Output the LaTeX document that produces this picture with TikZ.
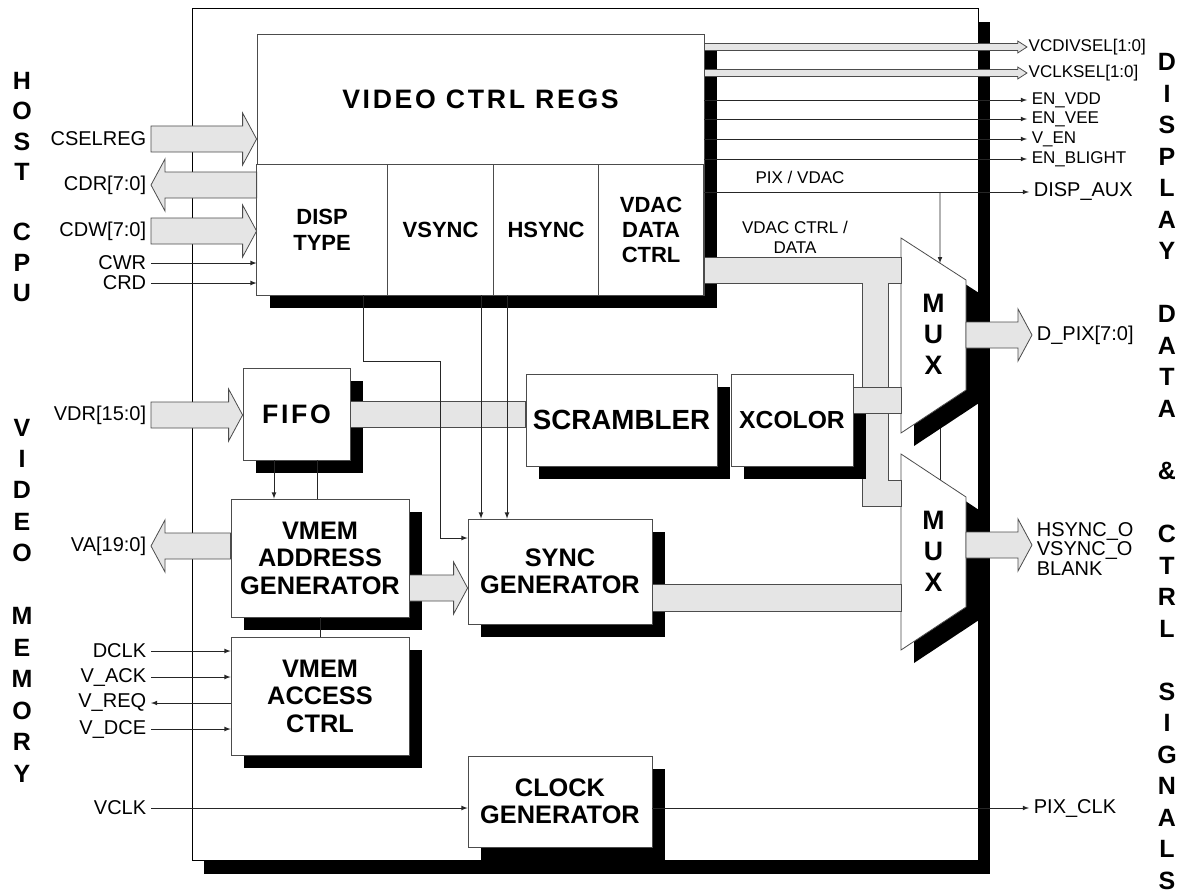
\documentclass[tikz,border=0pt]{standalone}
\usepackage{fontspec}
\setmainfont{Liberation Sans}
\newfontfamily\spacedfont[LetterSpace=10]{Liberation Sans}
\usetikzlibrary{positioning,shadows,calc,backgrounds}
\definecolor{busgray}{RGB}{229,229,229}

% wide bus: start, tip, half body, half head, head length
\newcommand\busshape[5]{%
  \draw[bus] let \p1=(#1), \p2=(#2), \p3=($(#2)!#5!(#1)$) in
    (\x1,\y2+#3) -- (\x3,\y2+#3) -- (\x3,\y2+#4) -- (\x2,\y2)
    -- (\x3,\y2-#4) -- (\x3,\y2-#3) -- (\x1,\y2-#3) -- cycle;}
\newcommand\fatbus[2]{\busshape{#1}{#2}{9.75pt}{19.5pt}{10.5pt}}
\newcommand\thinbus[2]{\busshape{#1}{#2}{2.6pt}{4.5pt}{7pt}}

\begin{document}
\begin{tikzpicture}[x=.75pt,y=-.75pt,line width=.6pt,>=latex,
font=\fontsize{15}{18}\selectfont,
blk/.style={draw=black!70,fill=white,align=center,inner sep=0pt,
  font=\bfseries\fontsize{19}{20.6}\selectfont,
  drop shadow={shadow xshift=9.75pt,shadow yshift=-9.75pt,opacity=1,fill=black}},
sz/.style 2 args={minimum width=#1*0.75pt,minimum height=#2*0.75pt},
cell/.style={draw=black!70,fill=white,align=center,inner sep=0pt,outer sep=0pt,
  minimum height=131*0.75pt,font=\bfseries\fontsize{16.5}{19}\selectfont},
mux/.style={draw=black!70,fill=white,
  drop shadow={shadow xshift=9.75pt,shadow yshift=-9.75pt,opacity=1,fill=black}},
muxlbl/.style={align=center,inner sep=0pt,font=\bfseries\fontsize{20}{23.3}\selectfont},
sig/.style={draw=black!85},
bus/.style={draw=black!70,fill=busgray},
lbl/.style={font=\fontsize{15}{18}\selectfont},
slbl/.style={font=\fontsize{12.75}{15}\selectfont},
side/.style={align=center,inner sep=0pt,font=\bfseries\fontsize{18.75}{23.6}\selectfont}]
\useasboundingbox (0,0) rectangle (1186,892);

% chip frame
\begin{scope}[on background layer]
\node[draw=black,fill=white,sz={786}{852},
  drop shadow={shadow xshift=9pt,shadow yshift=-10.5pt,opacity=1,fill=black}] (chip) at (585,434) {};
\end{scope}

% register file
\node[blk,sz={447}{261}] (regs) at (480.5,164.5) {};
\node[font=\spacedfont\bfseries\fontsize{20}{22}\selectfont] (title) at (480.5,99) {VIDEO CTRL REGS};
\node[cell,minimum width=131*0.75pt,anchor=south west] (dtype) at (regs.south west) {DISP\\TYPE};
\node[cell,minimum width=106*0.75pt,right=0pt of dtype] (vsync) {VSYNC};
\node[cell,minimum width=105*0.75pt,right=0pt of vsync] (hsync) {HSYNC};
\node[cell,minimum width=105*0.75pt,right=0pt of hsync] (vdac) {VDAC\\DATA\\CTRL};

% multiplexers
\draw[mux] (901,238) coordinate (m1a) -- (966,280) coordinate (m1b) -- (966,390) -- (901,433) -- cycle;
\node[muxlbl] (mux1) at (933.5,334) {M\\U\\X};
\draw[mux] (901,454) coordinate (m2a) -- (966,497) coordinate (m2b) -- (966,607) -- (901,650) -- cycle;
\node[muxlbl] (mux2) at (933.5,551) {M\\U\\X};

% vdac ctrl / data bus
\draw[bus] (regs.east |- 0,257) -- (m1a |- 0,257) -- (m1a |- 0,283) -- (888,283) -- (888,480)
  -- (m2a |- 0,480) -- (m2a |- 0,506) -- (862,506) -- (862,283) -- (regs.east |- 0,283) -- cycle;

% blocks
\node[blk,sz={107}{92},font=\spacedfont\bfseries\fontsize{20}{23}\selectfont] (fifo) at (296.5,414) {FIFO};
\node[blk,sz={191}{92},font=\bfseries\fontsize{20.8}{23}\selectfont] (scr) at (621.5,420) {SCRAMBLER};
\node[blk,sz={122}{92},font=\bfseries\fontsize{18.5}{23}\selectfont] (xcol) at (792,420) {XCOLOR};
\node[blk,sz={178}{118}] (addr) at (320,558) {VMEM\\ADDRESS\\GENERATOR};
\node[blk,sz={178}{118}] (acc) at (320,696) {VMEM\\ACCESS\\CTRL};
\node[blk,sz={184}{105}] (sync) at (560,571.5) {SYNC\\GENERATOR};
\node[blk,sz={184}{91}] (clk) at (560,801.5) {CLOCK\\GENERATOR};

% internal buses
\draw[bus] (fifo.east |- 0,401) rectangle (scr.west |- 0,427);
\draw[bus] (xcol.east |- 0,387) rectangle (m1a |- 0,413);
\draw[bus] (sync.east |- 0,584) rectangle (m2a |- 0,611);
\fatbus{addr.east |- 0,588}{sync.west |- 0,588}

% internal signals
\draw[sig,->] (274,0 |- fifo.south) -- (274,0 |- addr.north);
\draw[sig] (317,0 |- fifo.south) -- (317,0 |- addr.north);
\draw[sig] (addr.south) -- (acc.north);
\draw[sig,->] (363,0 |- regs.south) |- (440,361) |- (sync.west |- 0,538);
\draw[sig,->] (481,0 |- regs.south) -- (481,0 |- sync.north);
\draw[sig,->] (507,0 |- regs.south) -- (507,0 |- sync.north);

% host cpu side
\node[lbl,anchor=east] (cselreg) at (151,139) {CSELREG};
\node[lbl,anchor=east] (cdr) at (151,185) {CDR[7:0]};
\node[lbl,anchor=east] (cdw) at (151,231) {CDW[7:0]};
\node[lbl,anchor=east] (cwr) at (151,263) {CWR};
\node[lbl,anchor=east] (crd) at (151,283) {CRD};
\fatbus{cselreg.east}{cselreg -| regs.west}
\fatbus{cdr -| regs.west}{cdr.east}
\fatbus{cdw.east}{cdw -| regs.west}
\draw[sig,->] (cwr.east) -- (cwr -| regs.west);
\draw[sig,->] (crd.east) -- (crd -| regs.west);

% video memory side
\node[lbl,anchor=east] (vdr) at (151,415) {VDR[15:0]};
\node[lbl,anchor=east] (va) at (151,546) {VA[19:0]};
\fatbus{vdr.east}{vdr -| fifo.west}
\fatbus{va -| addr.west}{va.east}
\node[lbl,anchor=east] (dclk) at (151,651) {DCLK};
\node[lbl,anchor=east] (vack) at (151,677) {V\_ACK};
\node[lbl,anchor=east] (vreq) at (151,703) {V\_REQ};
\node[lbl,anchor=east] (vdce) at (151,729) {V\_DCE};
\draw[sig,->] (dclk.east) -- (dclk -| acc.west);
\draw[sig,->] (vack.east) -- (vack -| acc.west);
\draw[sig,<-] (vreq.east) -- (vreq -| acc.west);
\draw[sig,->] (vdce.east) -- (vdce -| acc.west);
\node[lbl,anchor=east] (vclk) at (151,808) {VCLK};
\draw[sig,->] (vclk.east) -- (vclk -| clk.west);

% display side
\node[slbl,anchor=west,inner xsep=1pt] (vcdiv) at (1027,47) {VCDIVSEL[1:0]};
\node[slbl,anchor=west,inner xsep=1pt] (vclksel) at (1027,73) {VCLKSEL[1:0]};
\thinbus{regs.east |- vcdiv}{vcdiv.west}
\thinbus{regs.east |- vclksel}{vclksel.west}
\node[slbl,anchor=west] (envdd) at (1027,100) {EN\_VDD};
\node[slbl,anchor=west] (envee) at (1027,119) {EN\_VEE};
\node[slbl,anchor=west] (ven) at (1027,139) {V\_EN};
\node[slbl,anchor=west] (enbl) at (1027,159) {EN\_BLIGHT};
\draw[sig,->] (regs.east |- envdd) -- (envdd.west);
\draw[sig,->] (regs.east |- envee) -- (envee.west);
\draw[sig,->] (regs.east |- ven) -- (ven.west);
\draw[sig,->] (regs.east |- enbl) -- (enbl.west);
\node[lbl,anchor=west] (dispaux) at (1029,192) {DISP\_AUX};
\draw[sig,->] (regs.east |- dispaux) -- (dispaux.west);
\node[slbl] (pixvdac) at (800,177) {PIX / VDAC};
\draw[sig,->] (940,0 |- dispaux) -- ($(m1a)!.6!(m1b)$);
\begin{scope}[on background layer]
\draw[sig] ($(m1a)!.6!(m1b)$) -- ($(m2a)!.6!(m2b)$);
\end{scope}
\node[slbl,align=center] (vdacdat) at (795,237) {VDAC CTRL /\\DATA};
\node[lbl,anchor=west] (dpix) at (1032,335) {D\_PIX[7:0]};
\fatbus{m1b |- dpix}{dpix.west}
\node[anchor=west,align=left,font=\fontsize{15}{14.3}\selectfont] (hsynco) at (1032,549) {HSYNC\_O\\VSYNC\_O\\BLANK};
\fatbus{m2b |- 0,545}{hsynco.west |- 0,545}
\node[lbl,anchor=west] (pixclk) at (1029,808) {PIX\_CLK};
\draw[sig,->] (clk.east |- pixclk) -- (pixclk.west);

% side captions
\node[side,font=\bfseries\fontsize{18.75}{22.7}\selectfont] (host) at (22,187) {H\\O\\S\\T\\[22.7pt]C\\P\\U};
\node[side] (vmem) at (22,600.5) {V\\I\\D\\E\\O\\[23.6pt]M\\E\\M\\O\\R\\Y};
\node[side] (disp) at (1167,471.5) {D\\I\\S\\P\\L\\A\\Y\\[23.6pt]D\\A\\T\\A\\[23.6pt]\&\\[23.6pt]C\\T\\R\\L\\[23.6pt]S\\I\\G\\N\\A\\L\\S};
\end{tikzpicture}
\end{document}
